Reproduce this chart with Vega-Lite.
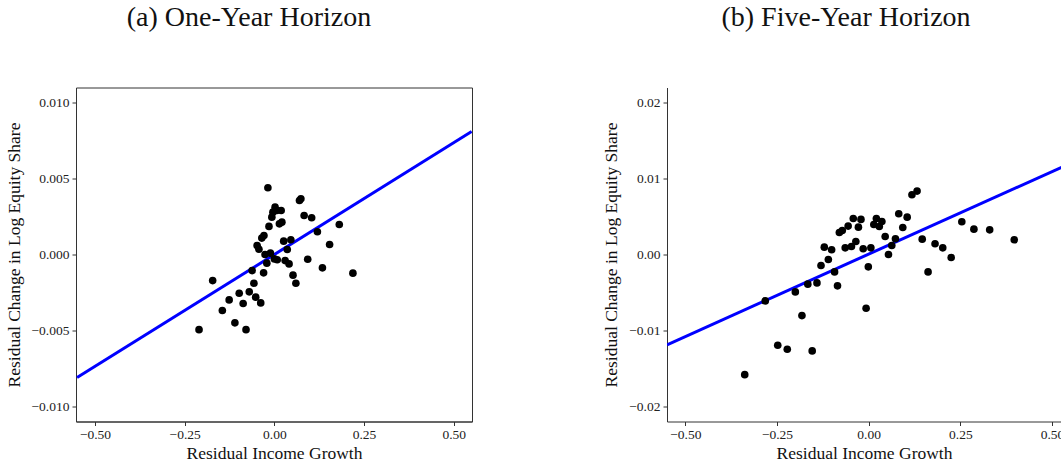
{
  "$schema": "https://vega.github.io/schema/vega-lite/v6.json",
  "background": "white",
  "padding": {"left": 4, "top": 2.5, "right": 0, "bottom": 0},
  "spacing": 195,
  "bounds": "flush",
  "datasets": {
    "oneYear": [
      {"g": -0.018, "s": 0.0044},
      {"g": 0.070, "s": 0.00356},
      {"g": 0.074, "s": 0.00367},
      {"g": 0.002, "s": 0.00312},
      {"g": -0.004, "s": 0.00279},
      {"g": 0.019, "s": 0.0029},
      {"g": 0.007, "s": 0.0029},
      {"g": -0.007, "s": 0.00246},
      {"g": 0.021, "s": 0.00213},
      {"g": 0.014, "s": 0.00202},
      {"g": 0.083, "s": 0.00257},
      {"g": 0.104, "s": 0.00242},
      {"g": 0.181, "s": 0.00198},
      {"g": -0.015, "s": 0.00185},
      {"g": -0.029, "s": 0.00125},
      {"g": -0.035, "s": 0.00108},
      {"g": 0.120, "s": 0.0015},
      {"g": 0.026, "s": 0.00088},
      {"g": 0.046, "s": 0.00097},
      {"g": -0.048, "s": 0.00059},
      {"g": -0.043, "s": 0.00035},
      {"g": 0.036, "s": 0.00033},
      {"g": 0.154, "s": 0.00066},
      {"g": -0.026, "s": 0.0},
      {"g": -0.011, "s": 0.00009},
      {"g": -0.021, "s": -0.00057},
      {"g": 0.0, "s": -0.00029},
      {"g": 0.008, "s": -0.00035},
      {"g": 0.030, "s": -0.0004},
      {"g": 0.041, "s": -0.00062},
      {"g": 0.093, "s": -0.00031},
      {"g": 0.134, "s": -0.00088},
      {"g": 0.219, "s": -0.00123},
      {"g": -0.062, "s": -0.00106},
      {"g": -0.030, "s": -0.00121},
      {"g": 0.052, "s": -0.00136},
      {"g": 0.060, "s": -0.00189},
      {"g": -0.172, "s": -0.00172},
      {"g": -0.057, "s": -0.00189},
      {"g": -0.070, "s": -0.00246},
      {"g": -0.098, "s": -0.00255},
      {"g": -0.052, "s": -0.00281},
      {"g": -0.126, "s": -0.00299},
      {"g": -0.087, "s": -0.00323},
      {"g": -0.038, "s": -0.00319},
      {"g": -0.145, "s": -0.00369},
      {"g": -0.110, "s": -0.0045},
      {"g": -0.210, "s": -0.00495},
      {"g": -0.079, "s": -0.00495}
    ],
    "fiveYear": [
      {"g": 0.132, "s": 0.00835},
      {"g": 0.118, "s": 0.00787},
      {"g": 0.082, "s": 0.00537},
      {"g": 0.105, "s": 0.00492},
      {"g": -0.042, "s": 0.00475},
      {"g": -0.021, "s": 0.00462},
      {"g": 0.021, "s": 0.00475},
      {"g": 0.036, "s": 0.00435},
      {"g": 0.014, "s": 0.00396},
      {"g": 0.029, "s": 0.00369},
      {"g": -0.056, "s": 0.00374},
      {"g": -0.028, "s": 0.0036},
      {"g": -0.072, "s": 0.00317},
      {"g": -0.080, "s": 0.0029},
      {"g": 0.093, "s": 0.00356},
      {"g": 0.045, "s": 0.00237},
      {"g": 0.073, "s": 0.00207},
      {"g": -0.035, "s": 0.00171},
      {"g": -0.064, "s": 0.00088},
      {"g": -0.047, "s": 0.00106},
      {"g": -0.015, "s": 0.00075},
      {"g": 0.006, "s": 0.00088},
      {"g": -0.121, "s": 0.00097},
      {"g": -0.101, "s": 0.00062},
      {"g": 0.063, "s": 0.00119},
      {"g": 0.054, "s": 0.0},
      {"g": 0.146, "s": 0.00202},
      {"g": 0.254, "s": 0.00431},
      {"g": 0.287, "s": 0.00334},
      {"g": 0.330, "s": 0.00325},
      {"g": 0.397, "s": 0.00194},
      {"g": 0.181, "s": 0.00141},
      {"g": 0.202, "s": 0.00088},
      {"g": 0.225, "s": -0.0004},
      {"g": 0.162, "s": -0.00229},
      {"g": -0.001, "s": -0.00163},
      {"g": -0.110, "s": -0.00066},
      {"g": -0.130, "s": -0.00145},
      {"g": -0.093, "s": -0.00229},
      {"g": -0.141, "s": -0.00374},
      {"g": -0.166, "s": -0.00391},
      {"g": -0.200, "s": -0.00493},
      {"g": -0.085, "s": -0.00413},
      {"g": -0.007, "s": -0.00708},
      {"g": -0.282, "s": -0.00611},
      {"g": -0.182, "s": -0.00805},
      {"g": -0.248, "s": -0.01196},
      {"g": -0.222, "s": -0.01249},
      {"g": -0.154, "s": -0.0127},
      {"g": -0.338, "s": -0.01583}
    ],
    "fitOneYear": [
      {"g": -0.55, "s": -0.0081},
      {"g": 0.55, "s": 0.0081}
    ],
    "fitFiveYear": [
      {"g": -0.55, "s": -0.0119},
      {"g": 0.55, "s": 0.0120}
    ]
  },
  "hconcat": [
    {
      "width": 396,
      "height": 334,
      "title": {"text": "(a) One-Year Horizon", "dx": -25},
      "layer": [
        {
          "data": {"name": "fitOneYear"},
          "mark": {"type": "line", "color": "#0000ff", "strokeWidth": 3, "clip": true},
          "encoding": {
            "x": {"field": "g", "type": "quantitative"},
            "y": {"field": "s", "type": "quantitative"}
          }
        },
        {
          "data": {"name": "oneYear"},
          "mark": {"type": "circle", "color": "#000000", "opacity": 1, "size": 58},
          "encoding": {
            "x": {
              "field": "g", "type": "quantitative",
              "scale": {"domain": [-0.553, 0.551], "nice": false, "zero": false},
              "axis": {"title": "Residual Income Growth", "values": [-0.5, -0.25, 0, 0.25, 0.5], "format": ".2f"}
            },
            "y": {
              "field": "s", "type": "quantitative",
              "scale": {"domain": [-0.011, 0.011], "nice": false, "zero": false},
              "axis": {"title": "Residual Change in Log Equity Share", "values": [-0.01, -0.005, 0, 0.005, 0.01], "format": ".3f"}
            }
          }
        }
      ]
    },
    {
      "width": 394,
      "height": 334,
      "view": {"stroke": null},
      "title": {"text": "(b) Five-Year Horizon", "dx": -18},
      "layer": [
        {
          "data": {"name": "fitFiveYear"},
          "mark": {"type": "line", "color": "#0000ff", "strokeWidth": 3, "clip": true},
          "encoding": {
            "x": {"field": "g", "type": "quantitative"},
            "y": {"field": "s", "type": "quantitative"}
          }
        },
        {
          "data": {"name": "fiveYear"},
          "mark": {"type": "circle", "color": "#000000", "opacity": 1, "size": 58},
          "encoding": {
            "x": {
              "field": "g", "type": "quantitative",
              "scale": {"domain": [-0.55, 0.5245], "nice": false, "zero": false},
              "axis": {"title": "Residual Income Growth", "values": [-0.5, -0.25, 0, 0.25, 0.5], "format": ".2f"}
            },
            "y": {
              "field": "s", "type": "quantitative",
              "scale": {"domain": [-0.022, 0.022], "nice": false, "zero": false},
              "axis": {"title": "Residual Change in Log Equity Share", "values": [-0.02, -0.01, 0, 0.01, 0.02], "format": ".2f"}
            }
          }
        },
        {
          "mark": {"type": "rule", "color": "#333333", "strokeWidth": 1},
          "encoding": {"y": {"datum": 0.022}}
        }
      ]
    }
  ],
  "config": {
    "view": {"stroke": "#333333", "strokeWidth": 1},
    "title": {
      "font": "Liberation Serif",
      "fontSize": 28,
      "fontWeight": "normal",
      "color": "#111111",
      "anchor": "middle",
      "frame": "group",
      "baseline": "alphabetic",
      "offset": 56
    },
    "axis": {
      "grid": false,
      "domain": true,
      "domainColor": "#333333",
      "tickColor": "#333333",
      "tickSize": 4,
      "labelFont": "Liberation Serif",
      "labelFontSize": 13.5,
      "labelColor": "#222222",
      "labelPadding": 3,
      "titleFont": "Liberation Serif",
      "titleFontSize": 17.5,
      "titleFontWeight": "normal",
      "titleColor": "#111111"
    },
    "axisX": {"titlePadding": 3, "labelPadding": 2},
    "axisY": {"titlePadding": 8}
  }
}
